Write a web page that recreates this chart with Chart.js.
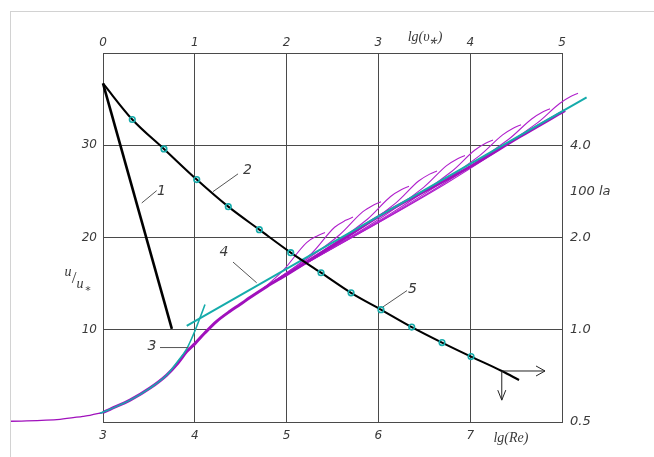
<!DOCTYPE html>
<html><head><meta charset="utf-8">
<script src="https://cdn.jsdelivr.net/npm/chart.js@4/dist/chart.umd.min.js"></script>
<style>
html,body{margin:0;padding:0;background:#fff;}
#wrap{position:relative;width:654px;height:457px;overflow:hidden;}
#frame{position:absolute;left:10px;top:11px;width:700px;height:500px;border-left:1px solid #d2d2d2;border-top:1px solid #d2d2d2;pointer-events:none;}
</style></head><body>
<div id="wrap"><canvas id="c" width="654" height="457"></canvas><div id="frame"></div></div>
<script>
// ---------- axis ticks ----------
const reTicks = [3, 4, 5, 6, 7, 8];          // lg(Re), bottom
const yStarTicks = [0, 1, 2, 3, 4, 5];       // lg(υ*), top
const uTicks = [0, 10, 20, 30, 40];          // u/u*, left
const laTicks = [0.5, 1, 2, 4, 8];           // 100 la, right (log)

// ---------- curve 1 (top axis lg(υ*), u/u*) ----------
const curve1X = [0, 0.75];
const curve1U = [36.7, 10.1];

// ---------- curve 2 / 5 (top axis lg(υ*), u/u*) ----------
const curve2X = [0, 0.319, 0.664, 1.021, 1.365, 1.703, 2.045, 2.375, 2.702, 3.028, 3.363, 3.693, 4.009, 4.344, 4.532];
const curve2U = [36.7, 32.79, 29.6, 26.28, 23.34, 20.85, 18.36, 16.18, 14.0, 12.18, 10.29, 8.61, 7.09, 5.53, 4.55];
// circle markers on curve 2
const markX = [0.319, 0.664, 1.021, 1.365, 1.703, 2.045, 2.375, 2.702, 3.028, 3.363, 3.693, 4.009];
const markU = [32.79, 29.6, 26.28, 23.34, 20.85, 18.36, 16.18, 14.0, 12.18, 10.29, 8.61, 7.09];

// ---------- curve 4 (cyan, log law) lg(Re) ----------
const curve4X = [3.912, 8.268];
const curve4U = [10.43, 35.19];

// ---------- curve 3 (cyan, sublayer) ----------
const curve3X = [2.967, 3.076, 3.294, 3.512, 3.694, 3.817, 3.912, 4.002, 4.057, 4.111];
const curve3U = [0.95, 1.38, 2.37, 3.68, 5.09, 6.62, 7.93, 9.89, 11.31, 12.73];

// ---------- purple measured profile (main band) ----------
const purpleTailX = [1.987, 2.532, 2.782, 2.858, 3.0];
const purpleTailU = [0.08, 0.29, 0.62, 0.73, 1.03];
const purpleX = [3.0, 3.076, 3.294, 3.512, 3.694, 3.817, 3.912, 4.002, 4.111, 4.238, 4.383, 4.492, 4.601, 4.786, 5.004, 5.473, 6.017, 6.998, 7.543, 8.033];
const purpleU = [1.03, 1.38, 2.37, 3.68, 5.09, 6.4, 7.63, 8.5, 9.67, 10.91, 12.0, 12.73, 13.49, 14.69, 16.0, 18.94, 22.36, 27.67, 30.94, 33.77];

// ---------- purple thin profiles with outer "wake" caps ----------
const wake1X = [4.75, 4.968, 5.218, 5.338, 5.418];  const wake1U = [14.5, 16.49, 19.45, 20.2, 20.55];
const wake2X = [4.75, 5.273, 5.523, 5.643, 5.723];  const wake2U = [14.5, 18.28, 21.11, 21.86, 22.21];
const wake3X = [4.75, 5.578, 5.828, 5.948, 6.028];  const wake3U = [14.5, 20.3, 22.78, 23.53, 23.88];
const wake4X = [4.75, 5.883, 6.133, 6.253, 6.333];  const wake4U = [14.5, 22.01, 24.45, 25.2, 25.55];
const wake5X = [4.75, 6.188, 6.438, 6.558, 6.638];  const wake5U = [14.5, 23.73, 26.12, 26.87, 27.22];
const wake6X = [4.75, 6.493, 6.743, 6.863, 6.943];  const wake6U = [14.5, 25.44, 27.79, 28.54, 28.89];
const wake7X = [4.75, 6.798, 7.048, 7.168, 7.248];  const wake7U = [14.5, 27.16, 29.46, 30.21, 30.56];
const wake8X = [4.75, 7.103, 7.353, 7.473, 7.553];  const wake8U = [14.5, 28.88, 31.12, 31.87, 32.22];
const wake9X = [4.75, 7.419, 7.669, 7.789, 7.869];  const wake9U = [14.5, 30.65, 32.85, 33.6, 33.95];
const wake10X = [4.75, 7.724, 7.974, 8.094, 8.174]; const wake10U = [14.5, 32.37, 34.53, 35.28, 35.63];

// ---------- curve number labels ----------
const curveLabels = ['1', '2', '3', '4', '5'];

// ================= styling / building =================
const zip = (xs, ys) => xs.map((v, i) => ({x: v, y: ys[i]}));
const TEXT = '#3a3a3a';
const GRID = '#4a4a4a';
const CYAN = '#15abab';
const PURPLE = '#a010bc';
const PURPLE_THIN = '#b020cc';

const wakes = [[wake1X,wake1U],[wake2X,wake2U],[wake3X,wake3U],[wake4X,wake4U],[wake5X,wake5U],
               [wake6X,wake6U],[wake7X,wake7U],[wake8X,wake8U],[wake9X,wake9U],[wake10X,wake10U]];

const base = {fill:false, pointRadius:0, clip:false, xAxisID:'x', yAxisID:'y'};
const datasets = [
  {...base, label:'markers', xAxisID:'xTop', data: zip(markX, markU), showLine:false,
   pointRadius:2.8, pointBorderWidth:1.6, pointBorderColor:CYAN, pointBackgroundColor:'rgba(0,0,0,0)', order:0},
  {...base, label:'1', xAxisID:'xTop', data: zip(curve1X, curve1U), borderColor:'#000', borderWidth:2.6, order:1},
  {...base, label:'2/5', xAxisID:'xTop', data: zip(curve2X, curve2U), borderColor:'#000', borderWidth:2.1,
   cubicInterpolationMode:'monotone', order:1},
  {...base, label:'4', data: zip(curve4X, curve4U), borderColor:CYAN, borderWidth:2, order:2},
  {...base, label:'3', data: zip(curve3X, curve3U), borderColor:CYAN, borderWidth:1.6, cubicInterpolationMode:'monotone', order:2},
  {...base, label:'main', data: zip(purpleX, purpleU), borderColor:PURPLE, borderWidth:3, cubicInterpolationMode:'monotone', order:3},
  {...base, label:'tail', data: zip(purpleTailX, purpleTailU), borderColor:PURPLE, borderWidth:1.3, cubicInterpolationMode:'monotone', order:3},
  ...wakes.map((w, i) => ({...base, label:'w'+i, data: zip(w[0], w[1]), borderColor:PURPLE_THIN, borderWidth:1.1,
     cubicInterpolationMode:'monotone', order:4}))
];

const tickFont = {family:'"DejaVu Sans"', size:12, style:'italic'};
const tickFont13 = {family:'"DejaVu Sans"', size:13, style:'italic'};

const annot = {
  id:'annot',
  afterDatasetsDraw(chart){
    const {ctx, chartArea, scales} = chart;
    const {x, y, xTop, yR} = scales;
    ctx.save();
    // curve labels + leader lines
    const labelAt = [[3.637,25.0],[4.574,27.23],[3.534,8.15],[4.318,18.34],[6.371,14.36]];
    const leaders = [[3.422,23.74,3.585,25.08],[4.198,24.97,4.471,26.9],[3.621,8.07,3.929,8.07],
                     [4.416,17.34,4.674,15.09],[6.312,14.25,6.05,12.48]];
    ctx.strokeStyle = '#555'; ctx.lineWidth = 1;
    leaders.forEach(l => {
      ctx.beginPath();
      ctx.moveTo(x.getPixelForValue(l[0]), y.getPixelForValue(l[1]));
      ctx.lineTo(x.getPixelForValue(l[2]), y.getPixelForValue(l[3]));
      ctx.stroke();
    });
    ctx.fillStyle = TEXT;
    ctx.font = 'italic 14px "DejaVu Sans"';
    ctx.textAlign = 'center'; ctx.textBaseline = 'middle';
    curveLabels.forEach((t, i) => ctx.fillText(t, x.getPixelForValue(labelAt[i][0]), y.getPixelForValue(labelAt[i][1])));

    // arrows at end of curve 5
    const ox = xTop.getPixelForValue(4.344), oy = y.getPixelForValue(5.53);
    const ex = x.getPixelForValue(7.815), ey = y.getPixelForValue(2.37);
    ctx.strokeStyle = '#222'; ctx.lineWidth = 1;
    ctx.beginPath();
    ctx.moveTo(ox, oy); ctx.lineTo(ex, oy);
    ctx.moveTo(ex - 9, oy - 5); ctx.lineTo(ex, oy); ctx.lineTo(ex - 9, oy + 5);
    ctx.moveTo(ox, oy); ctx.lineTo(ox, ey);
    ctx.moveTo(ox - 4, ey - 10); ctx.lineTo(ox, ey); ctx.lineTo(ox + 4, ey - 10);
    ctx.stroke();

    // axis titles
    ctx.fillStyle = TEXT;
    ctx.font = 'italic 14px "Liberation Serif"';
    ctx.fillText('lg(υ⁎)', xTop.getPixelForValue(3.508), chartArea.top - 16);
    ctx.fillText('lg(Re)', x.getPixelForValue(7.444), chartArea.bottom + 16);
    ctx.font = 'italic 13px "DejaVu Sans"';
    ctx.textAlign = 'left';
    ctx.fillText('100 la', chartArea.right + 8, yR.getPixelForValue(2.83));
    // u/u*
    const lx = chartArea.left, ly = y.getPixelForValue(15.56);
    ctx.font = 'italic 14px "Liberation Serif"';
    ctx.textAlign = 'center';
    ctx.fillText('u', lx - 35, ly - 6);
    ctx.font = '17px "Liberation Serif"';
    ctx.fillText('/', lx - 29, ly);
    ctx.font = 'italic 14px "Liberation Serif"';
    ctx.fillText('u', lx - 23, ly + 6);
    ctx.font = '11px "DejaVu Sans"';
    ctx.fillText('⁎', lx - 15, ly + 10);
    ctx.restore();
  }
};

new Chart(document.getElementById('c'), {
  type:'line',
  data:{datasets},
  options:{
    responsive:false, animation:false, parsing:true,
    layout:{padding:0},
    plugins:{legend:{display:false}, tooltip:{enabled:false}},
    elements:{line:{tension:0}},
    scales:{
      x:{type:'linear', position:'bottom',
         afterDataLimits:s=>{s.min = reTicks[0]; s.max = reTicks[reTicks.length-1];},
         afterBuildTicks:s=>{s.ticks = reTicks.map(v=>({value:v}));},
         ticks:{callback:v=> v===8 ? '' : String(v), font:tickFont, color:TEXT, padding:7, maxRotation:0, autoSkip:false},
         grid:{color:GRID, lineWidth:1, drawTicks:false},
         border:{display:true, color:GRID},
         afterFit:s=>{s.height = 35;}},
      xTop:{type:'linear', position:'top',
         afterDataLimits:s=>{s.min = yStarTicks[0]; s.max = yStarTicks[yStarTicks.length-1];},
         afterBuildTicks:s=>{s.ticks = yStarTicks.map(v=>({value:v}));},
         ticks:{callback:v=>String(v), font:tickFont, color:TEXT, padding:3, maxRotation:0, autoSkip:false},
         grid:{display:false, drawTicks:false},
         border:{display:true, color:GRID},
         afterFit:s=>{s.height = 53;}},
      y:{type:'linear', position:'left', min:0, max:40,
         afterBuildTicks:s=>{s.ticks = uTicks.map(v=>({value:v}));},
         ticks:{callback:v=> (v===0||v===40) ? '' : String(v), font:tickFont, color:TEXT, padding:6},
         grid:{color:GRID, lineWidth:1, drawTicks:false},
         border:{display:true, color:GRID},
         afterFit:s=>{s.width = 103;}},
      yR:{type:'logarithmic', position:'right', min:0.5, max:8,
         afterBuildTicks:s=>{s.ticks = laTicks.map(v=>({value:v}));},
         ticks:{callback:v=> v===8 ? '' : Number(v).toFixed(1), font:tickFont13, color:TEXT, padding:8},
         grid:{display:false, drawTicks:false},
         border:{display:true, color:GRID},
         afterFit:s=>{s.width = 92;}}
    }
  },
  plugins:[annot]
});
</script>
</body></html>
